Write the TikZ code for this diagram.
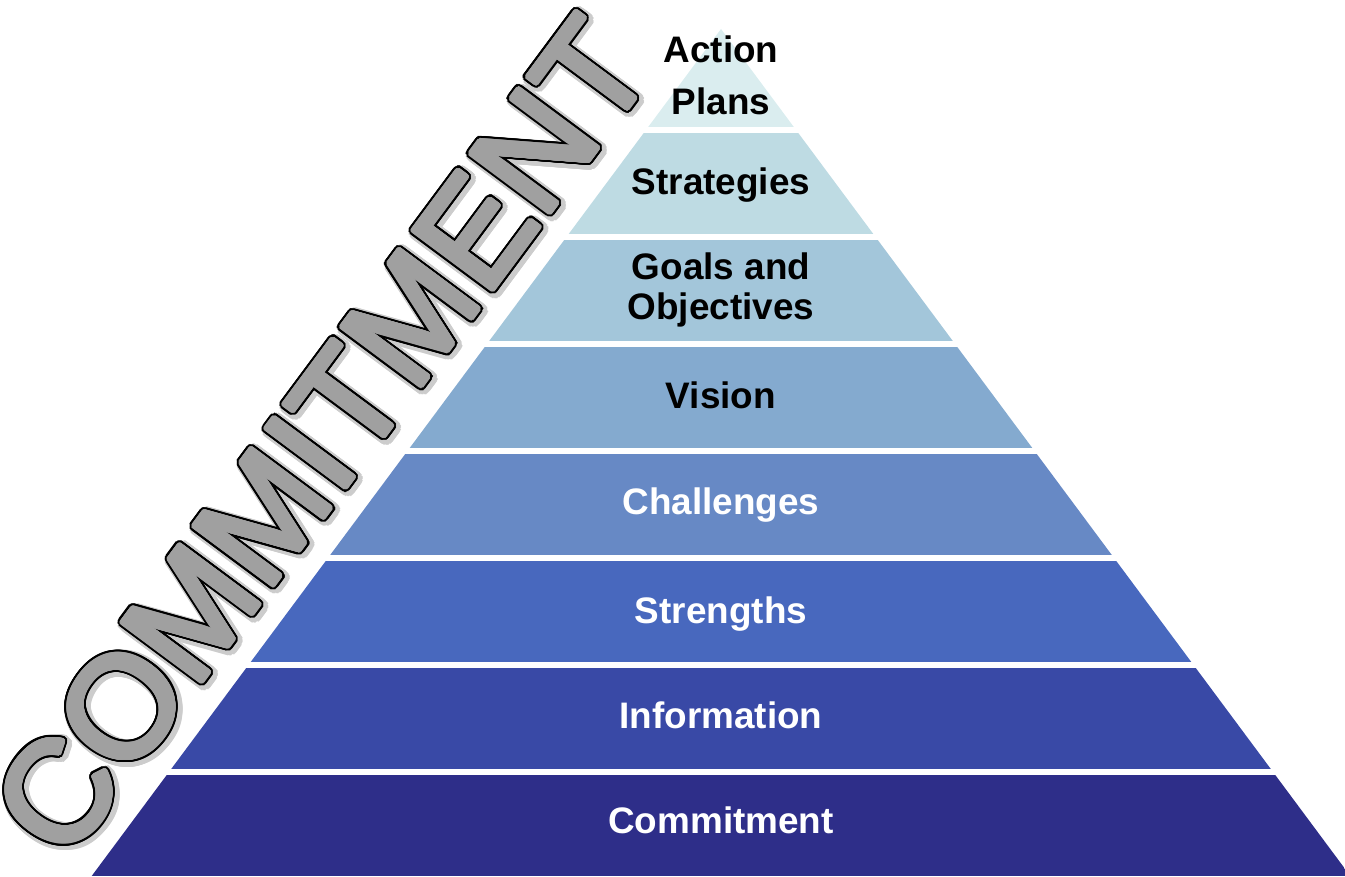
\documentclass[tikz,border=0pt]{standalone}
\usepackage{fontspec}
\setmainfont{Liberation Sans}
\usepackage{tikz}
\usepackage{contour}
\contournumber{32}

\definecolor{layerA}{HTML}{DAEDEF}
\definecolor{layerB}{HTML}{BEDBE3}
\definecolor{layerC}{HTML}{A3C6DA}
\definecolor{layerD}{HTML}{84AACF}
\definecolor{layerE}{HTML}{6789C5}
\definecolor{layerF}{HTML}{4868BE}
\definecolor{layerG}{HTML}{3949A6}
\definecolor{layerH}{HTML}{2E2E89}
\definecolor{commitgray}{HTML}{A0A0A0}

\begin{document}
\begin{tikzpicture}[x=0.02cm,y=0.02cm]
        \tikzstyle{layerlabel}=[
            font=\fontsize{21}{23}\selectfont\bfseries,
            anchor=base,
            inner sep=0pt,
            align=center
        ]
        \tikzstyle{darklabel}=[layerlabel, text=black]
        \tikzstyle{lightlabel}=[layerlabel, text=white]
        \tikzstyle{commitword}=[
            font=\fontsize{82}{82}\selectfont,
            anchor=base west,
            inner sep=0pt,
            rotate=53.4
        ]

        \useasboundingbox (0,0) rectangle (1345,876);

        % pyramid bands
        \begin{scope}
            \clip (721,847) -- (91.7,0) -- (1350.3,0) -- cycle;
            \fill[layerA] (0,749) rectangle (1345,876);
            \foreach \col [count=\i] in {layerB,layerC,layerD,layerE,layerF,layerG,layerH}
                \fill[\col] (0,{749-107*\i}) rectangle (1345,{850-107*\i});
        \end{scope}

        % last line of each label sits on the given baseline
        \node[darklabel] (actionplans) at (721,761) {Action\\[7pt]Plans};
        \node[darklabel] (strategies) at (721,681) {Strategies};
        \node[darklabel] (goals) at (721,556) {Goals and\\Objectives};
        \node[darklabel] (vision) at (721,467) {Vision};
        \node[lightlabel] (challenges) at (721,361) {Challenges};
        \node[lightlabel] (strengths) at (721,253) {Strengths};
        \node[lightlabel] (information) at (721,148) {Information};
        \node[lightlabel] (commitment) at (721,43) {Commitment};

        % slanted word along the left side: shadow, black rim, gray body
        \contourlength{4pt}
        \node[commitword] (commitshadow) at (68.5,9) {\contour{black!20}{\textcolor{black!20}{COMMITMENT}}};
        \contourlength{2.6pt}
        \node[commitword] (commitrim) at (66,11) {\contour{black}{\textcolor{commitgray}{COMMITMENT}}};
        \contourlength{1.3pt}
        \node[commitword] (commitword) at (66,11) {\contour{commitgray}{\textcolor{commitgray}{COMMITMENT}}};

    \end{tikzpicture}
\end{document}
